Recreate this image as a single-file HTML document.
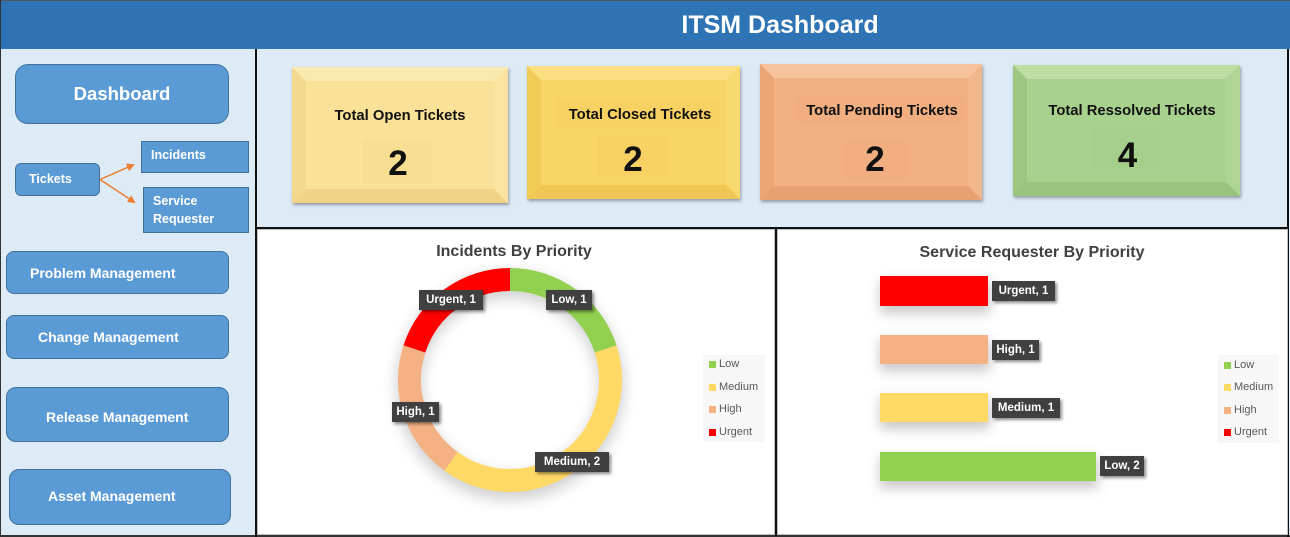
<!DOCTYPE html>
<html><head><meta charset="utf-8"><style>
*{margin:0;padding:0;box-sizing:border-box}
body{width:1290px;height:537px;overflow:hidden;background:#DDEBF7;font-family:"Liberation Sans",Arial,sans-serif;position:relative}
.a{position:absolute}
.t{position:absolute;height:20px;line-height:20px;white-space:nowrap;font-weight:bold}
.btn{position:absolute;background:#5B9BD5;border:1px solid #41719C}
.wt{color:#fff}
.card{position:absolute;border-style:solid;border-width:14px;box-shadow:1px 2px 3px rgba(0,0,0,.35)}
.ct{position:absolute;left:0;right:0;text-align:center;font-weight:bold;color:#111;white-space:nowrap}
.lbl{position:absolute;background:#404040;color:#fff;font-weight:bold;font-size:11.5px;text-align:center;box-shadow:2px 2px 3px rgba(0,0,0,.45);white-space:nowrap}
.lg{position:absolute;background:#F7F7F7}
.li{position:absolute;font-size:11px;color:#595959;height:14px;line-height:14px;white-space:nowrap}
.sq{position:absolute;width:7px;height:7px}
</style></head><body>
<!-- header -->
<div class="a" style="left:0;top:0;width:1290px;height:49px;background:#2E74B5;border-top:1px solid #555"></div>
<div class="a" style="left:580px;top:10px;width:400px;height:30px;line-height:30px;text-align:center;color:#fff;font-weight:bold;font-size:25px">ITSM Dashboard</div>
<!-- frame lines -->
<div class="a" style="left:0;top:0;width:1px;height:537px;background:#333"></div>
<div class="a" style="left:0;top:535px;width:1290px;height:2px;background:#333"></div>
<div class="a" style="left:255px;top:49px;width:2px;height:488px;background:#111"></div>
<div class="a" style="left:1287px;top:49px;width:2px;height:488px;background:#111"></div>
<div class="a" style="left:256px;top:227px;width:1032px;height:2px;background:#111"></div>
<!-- chart panels -->
<div class="a" style="left:257px;top:229px;width:518px;height:306px;background:#fff;border:1px solid #BFBFBF"></div>
<div class="a" style="left:775px;top:229px;width:2px;height:307px;background:#111"></div>
<div class="a" style="left:777px;top:229px;width:511px;height:306px;background:#fff;border:1px solid #BFBFBF"></div>

<!-- sidebar -->
<div class="btn" style="left:15px;top:64px;width:214px;height:60px;border-radius:13px;display:flex;align-items:center;justify-content:center"><span class="wt" style="font-weight:bold;font-size:18.5px">Dashboard</span></div>
<div class="btn" style="left:15px;top:163px;width:85px;height:33px;border-radius:6px"></div>
<div class="t wt" style="left:29px;top:169px;font-size:12.5px">Tickets</div>
<div class="btn" style="left:141px;top:141px;width:108px;height:32px"></div>
<div class="t wt" style="left:151px;top:145px;font-size:12.5px">Incidents</div>
<div class="btn" style="left:143px;top:187px;width:106px;height:46px"></div>
<div class="t wt" style="left:153px;top:191px;font-size:12.5px">Service</div>
<div class="t wt" style="left:153px;top:209px;font-size:12.5px">Requester</div>
<div class="btn" style="left:6px;top:251px;width:223px;height:43px;border-radius:8px"></div>
<div class="t wt" style="left:30px;top:263px;font-size:14px">Problem Management</div>
<div class="btn" style="left:6px;top:315px;width:223px;height:44px;border-radius:8px"></div>
<div class="t wt" style="left:38px;top:327px;font-size:14px">Change Management</div>
<div class="btn" style="left:6px;top:387px;width:223px;height:55px;border-radius:10px"></div>
<div class="t wt" style="left:46px;top:407px;font-size:14px">Release Management</div>
<div class="btn" style="left:9px;top:469px;width:222px;height:56px;border-radius:10px"></div>
<div class="t wt" style="left:48px;top:486px;font-size:14px">Asset Management</div>

<!-- KPI cards -->
<div class="card" style="left:292px;top:67px;width:216px;height:136px;background:#F9E197;border-color:#FBEAB0 #FAE4A0 #F0D387 #F2D98D"></div>
<div class="a" style="left:362px;top:138px;width:71px;height:45px;background:rgba(200,160,40,.03)"></div>
<div class="ct" style="left:292px;width:216px;right:auto;top:106px;height:20px;line-height:20px;font-size:14.8px">Total Open Tickets</div>
<div class="ct" style="left:290px;width:216px;right:auto;top:144px;height:40px;line-height:40px;font-size:35px">2</div>

<div class="card" style="left:527px;top:66px;width:213px;height:133px;background:#F9D466;border-color:#FBDF82 #FAD870 #F0C754 #F2CB57"></div>
<div class="a" style="left:556px;top:100px;width:164px;height:27px;background:rgba(200,150,20,.03)"></div>
<div class="a" style="left:598px;top:137px;width:70px;height:38px;background:rgba(200,150,20,.03)"></div>
<div class="ct" style="left:531px;width:218px;right:auto;top:105px;height:20px;line-height:20px;font-size:14.8px">Total Closed Tickets</div>
<div class="ct" style="left:523px;width:220px;right:auto;top:140px;height:40px;line-height:40px;font-size:35px">2</div>

<div class="card" style="left:760px;top:64px;width:222px;height:136px;background:#F2B185;border-color:#F6C39C #F3B78C #E6A072 #EAA675"></div>
<div class="a" style="left:795px;top:97px;width:170px;height:27px;background:rgba(200,100,40,.03)"></div>
<div class="a" style="left:843px;top:140px;width:66px;height:40px;background:rgba(200,100,40,.03)"></div>
<div class="ct" style="left:771px;width:222px;right:auto;top:101px;height:20px;line-height:20px;font-size:14.8px">Total Pending Tickets</div>
<div class="ct" style="left:764px;width:222px;right:auto;top:140px;height:40px;line-height:40px;font-size:35px">2</div>

<div class="card" style="left:1013px;top:65px;width:227px;height:131px;background:#A9D18E;border-color:#BDDDA2 #AFD594 #9AC37E #9DC780"></div>
<div class="a" style="left:1090px;top:126px;width:70px;height:42px;background:rgba(60,120,30,.025)"></div>
<div class="ct" style="left:1018px;width:228px;right:auto;top:101px;height:20px;line-height:20px;font-size:14.8px">Total Ressolved Tickets</div>
<div class="ct" style="left:1014px;width:227px;right:auto;top:136px;height:40px;line-height:40px;font-size:35px">4</div>

<!-- SVG graphics -->
<svg class="a" style="left:0;top:0" width="1290" height="537" viewBox="0 0 1290 537">
<defs>
<filter id="blur" x="-50%" y="-50%" width="200%" height="200%"><feGaussianBlur stdDeviation="7"/></filter>
<filter id="blur2" x="-50%" y="-100%" width="200%" height="300%"><feGaussianBlur stdDeviation="6"/></filter>
<marker id="ah" markerWidth="8" markerHeight="8" refX="6" refY="4" orient="auto" markerUnits="userSpaceOnUse"><path d="M0,0 L8,4 L0,8 Z" fill="#ED7D31"/></marker>
</defs>
<!-- arrows -->
<line x1="100" y1="179.5" x2="133" y2="165" stroke="#ED7D31" stroke-width="1.5" marker-end="url(#ah)"/>
<line x1="100" y1="179.5" x2="134" y2="202" stroke="#ED7D31" stroke-width="1.5" marker-end="url(#ah)"/>
<!-- donut shadow -->
<circle cx="510" cy="386" r="101" fill="none" stroke="rgba(0,0,0,0.18)" stroke-width="26" filter="url(#blur)"/>
<g fill="none" stroke-width="23">
<path d="M510,279.5 A100.5,100.5 0 0 1 605.58,348.95" stroke="#92D050"/>
<path d="M605.58,348.95 A100.5,100.5 0 0 1 450.93,461.30" stroke="#FFD966"/>
<path d="M450.93,461.30 A100.5,100.5 0 0 1 414.42,348.95" stroke="#F4B183"/>
<path d="M414.42,348.95 A100.5,100.5 0 0 1 510,279.5" stroke="#FF0000"/>
</g>
<!-- bar shadows -->
<g fill="rgba(0,0,0,0.22)" filter="url(#blur2)">
<rect x="880" y="281" width="110" height="32"/>
<rect x="880" y="340" width="110" height="31"/>
<rect x="880" y="398" width="110" height="31"/>
<rect x="880" y="457" width="218" height="31"/>
</g>
<rect x="880" y="276" width="108" height="30" fill="#FF0000"/>
<rect x="880" y="335" width="108" height="29" fill="#F4B183"/>
<rect x="880" y="393" width="108" height="29" fill="#FFD966"/>
<rect x="880" y="452" width="216" height="29" fill="#92D050"/>
</svg>

<!-- chart titles -->
<div class="a" style="left:364px;top:242px;width:300px;height:20px;line-height:20px;text-align:center;font-weight:bold;font-size:16px;color:#404040">Incidents By Priority</div>
<div class="a" style="left:882px;top:243px;width:300px;height:20px;line-height:20px;text-align:center;font-weight:bold;font-size:16px;color:#404040">Service Requester By Priority</div>

<!-- donut labels -->
<div class="lbl" style="left:419px;top:290px;width:64px;height:20px;line-height:20px">Urgent, 1</div>
<div class="lbl" style="left:546px;top:290px;width:46px;height:20px;line-height:20px">Low, 1</div>
<div class="lbl" style="left:392px;top:402px;width:47px;height:20px;line-height:20px">High, 1</div>
<div class="lbl" style="left:535px;top:452px;width:74px;height:20px;line-height:20px">Medium, 2</div>

<!-- bar labels -->
<div class="lbl" style="left:992px;top:281px;width:63px;height:20px;line-height:20px">Urgent, 1</div>
<div class="lbl" style="left:992px;top:340px;width:47px;height:20px;line-height:20px">High, 1</div>
<div class="lbl" style="left:992px;top:398px;width:68px;height:20px;line-height:20px">Medium, 1</div>
<div class="lbl" style="left:1100px;top:456px;width:44px;height:20px;line-height:20px">Low, 2</div>

<!-- legend 1 -->
<div class="lg" style="left:703px;top:355px;width:62px;height:87px"></div>
<div class="sq" style="left:709px;top:361px;background:#92D050"></div><div class="li" style="left:719px;top:357px">Low</div>
<div class="sq" style="left:709px;top:384px;background:#FFD966"></div><div class="li" style="left:719px;top:380px">Medium</div>
<div class="sq" style="left:709px;top:406px;background:#F4B183"></div><div class="li" style="left:719px;top:402px">High</div>
<div class="sq" style="left:709px;top:429px;background:#FF0000"></div><div class="li" style="left:719px;top:425px">Urgent</div>

<!-- legend 2 -->
<div class="lg" style="left:1218px;top:355px;width:61px;height:88px"></div>
<div class="sq" style="left:1224px;top:362px;background:#92D050"></div><div class="li" style="left:1234px;top:358px">Low</div>
<div class="sq" style="left:1224px;top:384px;background:#FFD966"></div><div class="li" style="left:1234px;top:380px">Medium</div>
<div class="sq" style="left:1224px;top:407px;background:#F4B183"></div><div class="li" style="left:1234px;top:403px">High</div>
<div class="sq" style="left:1224px;top:429px;background:#FF0000"></div><div class="li" style="left:1234px;top:425px">Urgent</div>
</body></html>
